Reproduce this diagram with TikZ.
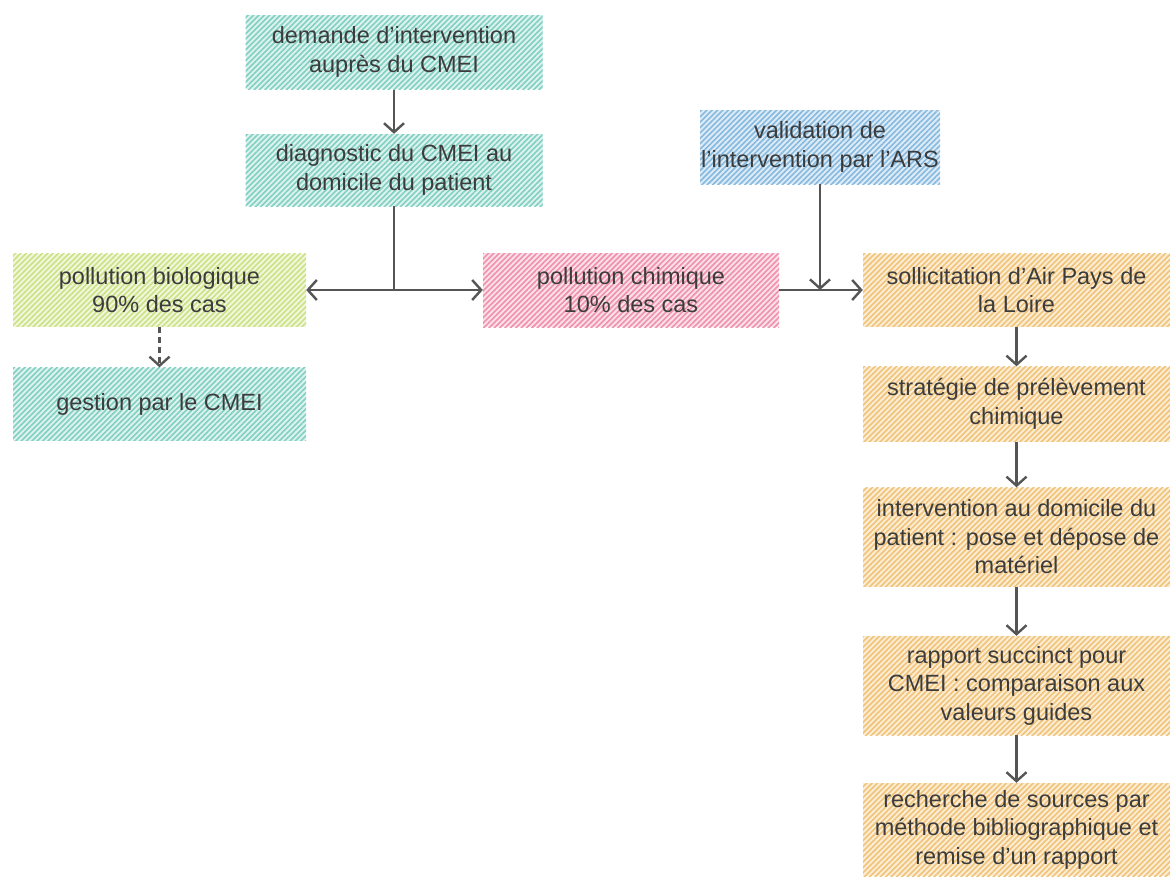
\documentclass[tikz,border=0pt]{standalone}
\usepackage{fontspec}
\setmainfont{Liberation Sans}
\usetikzlibrary{patterns.meta,arrows.meta}
\definecolor{tealL}{HTML}{80D0C2}
\definecolor{tealB}{HTML}{DDF2EE}
\definecolor{greenL}{HTML}{CBE284}
\definecolor{greenB}{HTML}{F0F7DC}
\definecolor{pinkL}{HTML}{EF90AE}
\definecolor{pinkB}{HTML}{FBE0E8}
\definecolor{blueL}{HTML}{84BAE0}
\definecolor{blueB}{HTML}{DEEBF6}
\definecolor{orangeL}{HTML}{F1C277}
\definecolor{orangeB}{HTML}{FBEDD4}
\definecolor{txt}{HTML}{3C3C3C}
\definecolor{arr}{HTML}{555555}
\tikzset{
  box/.style={draw=none, align=center, inner sep=0pt, text=txt,
    font=\fontsize{23.5}{28.5}\selectfont},
  hatch/.style 2 args={preaction={fill=#2},
    pattern={Lines[angle=45,distance=3.8pt,line width=1.6pt]}, pattern color=#1},
  tealbox/.style={box, hatch={tealL}{tealB}},
  greenbox/.style={box, hatch={greenL}{greenB}},
  pinkbox/.style={box, hatch={pinkL}{pinkB}},
  bluebox/.style={box, hatch={blueL}{blueB}},
  orangebox/.style={box, hatch={orangeL}{orangeB}},
  conn/.style={draw=arr, line width=2.4pt, -{Straight Barb[length=9pt,width=20pt,line width=2.4pt]}},
  line/.style={draw=arr, line width=2.4pt},
}
\begin{document}
\begin{tikzpicture}[x=1pt,y=1pt]
\useasboundingbox (0,0) rectangle (1170,-876);
\node[tealbox, minimum width=297, minimum height=74] (dem) at (394,-52) {demande d’intervention\\auprès du CMEI};
\node[tealbox, minimum width=297, minimum height=72] (diag) at (394,-170) {diagnostic du CMEI au\\domicile du patient};
\node[bluebox, minimum width=240, minimum height=74] (val) at (820,-147) {validation de\\l’intervention par l’ARS};
\node[greenbox, minimum width=293, minimum height=73] (bio) at (159.5,-290) {pollution biologique\\90\% des cas};
\node[pinkbox, minimum width=296, minimum height=74] (chim) at (631,-290) {pollution chimique\\10\% des cas};
\node[orangebox, minimum width=307, minimum height=73] (soll) at (1016.5,-290) {sollicitation d’Air Pays de\\la Loire};
\node[tealbox, minimum width=293, minimum height=73] (gest) at (159.5,-404) {gestion par le CMEI};
\node[orangebox, minimum width=307, minimum height=75] (strat) at (1016.5,-404) {stratégie de prélèvement\\chimique};
\node[orangebox, minimum width=307, minimum height=99] (interv) at (1016.5,-537) {intervention au domicile du\\patient : pose et dépose de\\matériel};
\node[orangebox, minimum width=307, minimum height=99] (rapp) at (1016.5,-685.5) {rapport succinct pour\\CMEI : comparaison aux\\valeurs guides};
\node[orangebox, minimum width=307, minimum height=93] (rech) at (1016.5,-829.5) {recherche de sources par\\méthode bibliographique et\\remise d’un rapport};
\coordinate (j1) at (394,-290);
\coordinate (j2) at (820,-290);
\draw[conn] (dem) -- (diag);
\draw[line] (diag.south) -- (j1);
\draw[conn] (j1) -- (bio.east);
\draw[conn] (j1) -- (chim.west);
\draw[conn] (chim.east) -- (soll.west);
\draw[conn] (val.south) -- (j2);
\draw[conn, dash pattern=on 6pt off 4pt] (bio) -- (gest);
\draw[conn] (soll) -- (strat);
\draw[conn] (strat) -- (interv);
\draw[conn] (interv) -- (rapp);
\draw[conn] (rapp) -- (rech);
\end{tikzpicture}
\end{document}
